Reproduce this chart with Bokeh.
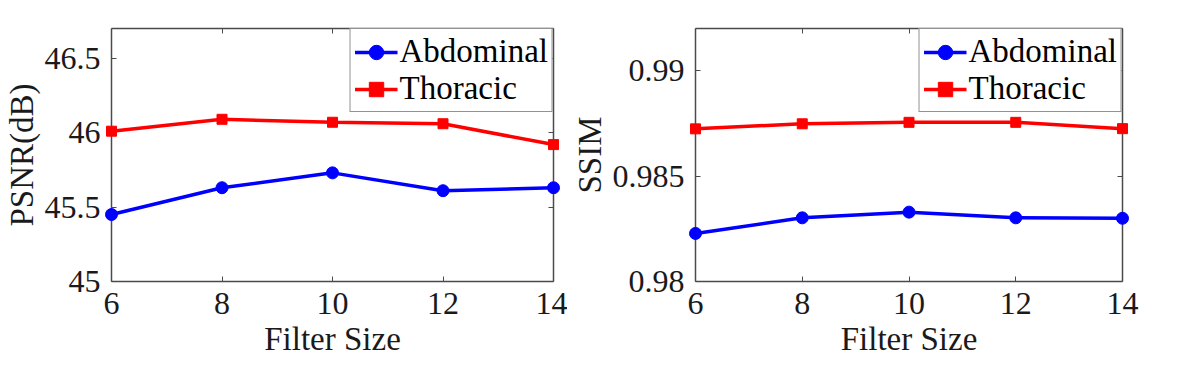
from bokeh.plotting import figure
from bokeh.layouts import row
from bokeh.models import Range1d, LinearAxis, FixedTicker, Legend, LegendItem
from bokeh.embed import file_html
from bokeh.resources import INLINE

filter_sizes = [6, 8, 10, 12, 14]
psnr_abdominal = [45.45, 45.63, 45.73, 45.61, 45.63]
psnr_thoracic = [46.01, 46.09, 46.07, 46.06, 45.92]
ssim_abdominal = [0.98228, 0.98302, 0.98329, 0.98302, 0.98300]
ssim_thoracic = [0.98724, 0.98748, 0.98755, 0.98755, 0.98725]

psnr_ticks = [45, 45.5, 46, 46.5]
psnr_tick_labels = ["45", "45.5", "46", "46.5"]
ssim_ticks = [0.98, 0.985, 0.99]
ssim_tick_labels = ["0.98", "0.985", "0.99"]

FONT = "'Liberation Serif', serif"
TXT = "#1a1a1a"
AX = "#4a4a4a"
BLUE = "#0000ff"
RED = "#ff0000"


def style_axis(ax, ticks, labels=None, show_labels=True):
    ax.ticker = FixedTicker(ticks=ticks)
    ax.minor_tick_line_color = None
    ax.major_tick_in = 5
    ax.major_tick_out = 0
    ax.major_tick_line_color = AX
    ax.axis_line_color = AX
    ax.axis_line_width = 1.5
    if show_labels:
        ax.major_label_text_font = FONT
        ax.major_label_text_font_size = "32px"
        ax.major_label_text_color = TXT
        ax.major_label_standoff = 11
        ax.axis_label_text_font = FONT
        ax.axis_label_text_font_size = "33px"
        ax.axis_label_text_font_style = "normal"
        ax.axis_label_text_color = TXT
        ax.axis_label_standoff = 2
        if labels is not None:
            ax.major_label_overrides = {t: l for t, l in zip(ticks, labels)}
    else:
        ax.major_label_text_font_size = "0px"
        ax.major_label_standoff = 0


def make_plot(y_a, y_t, yr, yticks, ylabels, ylabel, frame_w, border_left, border_right):
    p = figure(frame_width=frame_w, frame_height=253, output_backend="svg", toolbar_location=None,
               x_range=Range1d(6, 14), y_range=Range1d(*yr),
               min_border_left=border_left, min_border_right=border_right,
               min_border_top=28, min_border_bottom=80)
    p.grid.visible = False
    p.outline_line_color = None
    p.background_fill_color = "white"
    p.border_fill_color = "white"

    style_axis(p.xaxis[0], filter_sizes)
    p.xaxis[0].axis_label = "Filter Size"
    p.xaxis[0].axis_label_standoff = 4
    style_axis(p.yaxis[0], yticks, ylabels)
    p.yaxis[0].axis_label = ylabel

    top = LinearAxis()
    style_axis(top, filter_sizes, show_labels=False)
    p.add_layout(top, "above")
    right = LinearAxis()
    style_axis(right, yticks, show_labels=False)
    p.add_layout(right, "right")

    la = p.line(filter_sizes, y_a, line_color=BLUE, line_width=3.5)
    sa = p.scatter(filter_sizes, y_a, marker="circle", size=12, fill_color=BLUE, line_color=BLUE,
                   level="overlay")
    lt = p.line(filter_sizes, y_t, line_color=RED, line_width=3.5)
    st = p.scatter(filter_sizes, y_t, marker="square", size=10, fill_color=RED, line_color=RED,
                   level="overlay")

    legend = Legend(items=[LegendItem(label="Abdominal", renderers=[la, sa]),
                           LegendItem(label="Thoracic", renderers=[lt, st])],
                    location="top_right", margin=0, padding=4, spacing=0,
                    glyph_width=43, glyph_height=36, label_height=36, label_standoff=2,
                    label_text_font=FONT, label_text_font_size="33px", label_text_color="black",
                    border_line_color="#262626", border_line_width=1,
                    background_fill_color="white", background_fill_alpha=1.0)
    p.add_layout(legend, "center")
    return p


p1 = make_plot(psnr_abdominal, psnr_thoracic, (45, 46.7), psnr_ticks, psnr_tick_labels,
               "PSNR(dB)", 442, 103, 14)
p2 = make_plot(ssim_abdominal, ssim_thoracic, (0.98, 0.992), ssim_ticks, ssim_tick_labels,
               "SSIM", 427, 128, 50)

layout = row(p1, p2)
open("out.html", "w").write(file_html(layout, INLINE))
